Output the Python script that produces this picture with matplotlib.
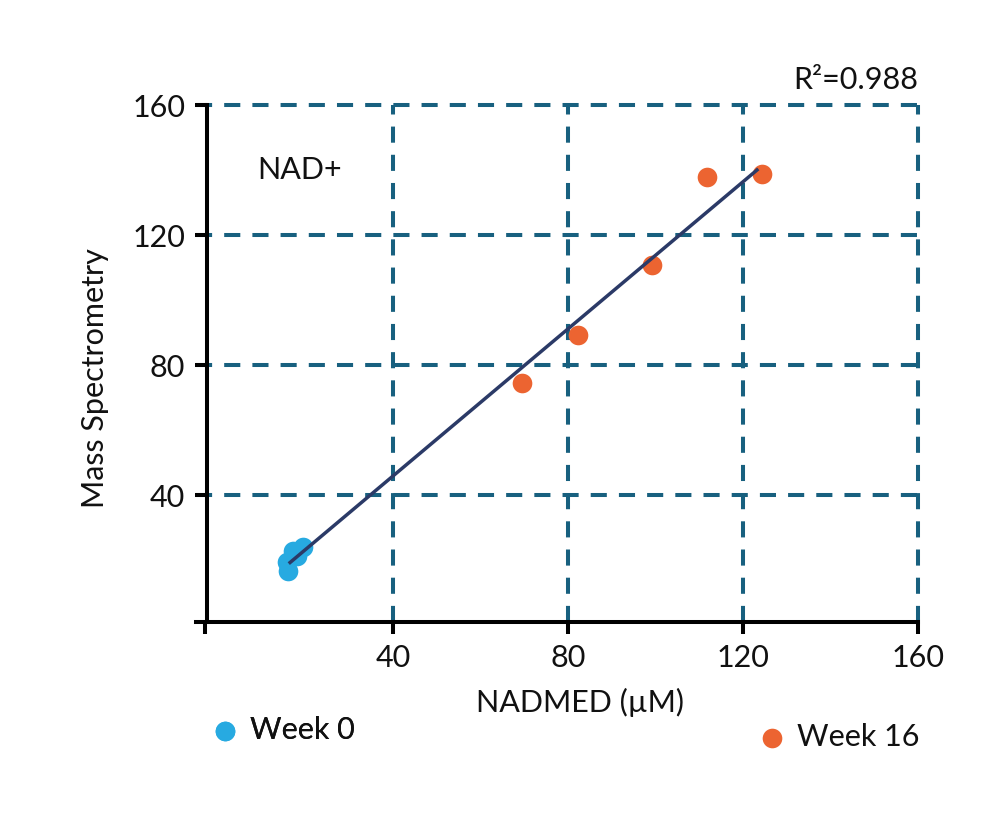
import matplotlib
matplotlib.use("Agg")
import matplotlib.pyplot as plt
import numpy as np

plt.rcParams['font.family'] = ['Lato', 'DejaVu Sans']
plt.rcParams['font.weight'] = 'normal'

# Data
week0_x = [15.8, 16.0, 17.1, 18.1, 19.4]
week0_y = [19.3, 16.6, 22.7, 21.2, 24.2]
week16_x = [69.5, 82.3, 99.2, 111.8, 124.3]
week16_y = [74.6, 89.3, 110.8, 137.8, 138.7]
fit_x = [16.5, 123.2]
fit_y = [19.3, 140.0]
ticks = [40, 80, 120, 160]
tick_labels = ['40', '80', '120', '160']
r2_text = 'R²=0.988'
series_names = ['Week 0', 'Week 16']

C_GRID = '#18607f'
C_BLUE = '#27aae1'
C_ORANGE = '#ec6431'
C_LINE = '#2b3a67'
C_TEXT = '#111111'
FS = 22

W, H = 1000, 814
fig = plt.figure(figsize=(W / 100, H / 100), dpi=100)
left, right, bottom, top = 196, 918, 622, 105
ax = fig.add_axes([left / W, 1 - bottom / H, (right - left) / W, (bottom - top) / H])

ax.set_xlim(-5, 160)
ax.set_ylim(1, 160)

for s in ['top', 'right']:
    ax.spines[s].set_visible(False)
ax.spines['left'].set_position(('data', -2.5))
for s in ['left', 'bottom']:
    ax.spines[s].set_linewidth(2.9)
    ax.spines[s].set_color('black')
    ax.spines[s].set_zorder(4)

ax.set_xticks([-3] + ticks)
ax.set_xticklabels([''] + tick_labels)
ax.set_yticks(ticks)
ax.set_yticklabels(tick_labels)
ax.tick_params(axis='both', length=8.6, width=2.9, color='black', labelsize=FS, pad=7,
               direction='out', labelcolor=C_TEXT)

ax.grid(True, color=C_GRID, linewidth=2.9, linestyle=(0, (4.0, 3.0)), zorder=0)
ax.set_axisbelow(True)
for gl in ax.get_xgridlines() + ax.get_ygridlines():
    gl.set_clip_on(False)
# hide gridline of the unlabeled origin tick
ax.get_xgridlines()[0].set_visible(False)

ax.plot(fit_x, fit_y, color=C_LINE, linewidth=2.5, zorder=3)
sc0 = ax.scatter(week0_x, week0_y, s=200, color=C_BLUE, zorder=2, linewidths=0, label=series_names[0])
sc1 = ax.scatter(week16_x, week16_y, s=200, color=C_ORANGE, zorder=2, linewidths=0, label=series_names[1])

ax.set_xlabel('NADMED (µM)', fontsize=FS, color=C_TEXT)
ax.xaxis.set_label_coords(0.532, -0.128)
ax.set_ylabel('Mass Spectrometry', fontsize=FS, color=C_TEXT)
ax.yaxis.set_label_coords(-0.12, 0.472)

ax.text(18.7, 140, 'NAD+', fontsize=FS, ha='center', va='center', color=C_TEXT)
ax.text(1.0, 1.048, r2_text, fontsize=FS, ha='right', va='center', transform=ax.transAxes, color=C_TEXT)

leg1 = fig.legend(handles=[sc0], loc='center left', bbox_to_anchor=(213 / W, 1 - 730 / H),
                  frameon=False, fontsize=FS, handlelength=0.8, handletextpad=0.4,
                  borderpad=0, borderaxespad=0, markerscale=1.0, labelcolor=C_TEXT)
leg2 = fig.legend(handles=[sc1], loc='center left', bbox_to_anchor=(760 / W, 1 - 737 / H),
                  frameon=False, fontsize=FS, handlelength=0.8, handletextpad=0.4,
                  borderpad=0, borderaxespad=0, markerscale=1.0, labelcolor=C_TEXT)
fig.add_artist(leg1)

fig.savefig('out.png', dpi=100, facecolor='white')
